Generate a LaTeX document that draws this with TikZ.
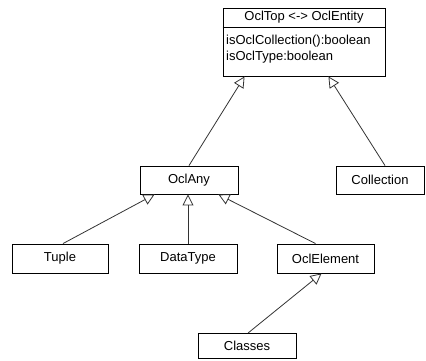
\documentclass[tikz,border=0pt]{standalone}
\usepackage{fontspec}
\setmainfont{Liberation Sans}
\usetikzlibrary{arrows.meta}
\begin{document}
\begin{tikzpicture}[x=1pt,y=-1pt,
  cls/.style={draw=black,line width=0.9pt,fill=white,minimum height=28pt,inner sep=0pt,font=\fontsize{13}{15}\selectfont},
  gen/.style={draw=black!80,line width=0.8pt,-{Triangle[open,length=11pt,width=11pt]}},
  txt/.style={inner sep=0pt,font=\fontsize{13}{15}\selectfont}]
\useasboundingbox (0,0) rectangle (426,360);
% top class
\node[draw=black,line width=0.9pt,minimum width=162pt,minimum height=68pt,inner sep=0pt] (top) at (304,42) {};
\node[txt] (toph) at (304,17.5) {OclTop <-> OclEntity};
\draw[line width=0.9pt] (top.west |- 0,27) coordinate (dl) -- (top.east |- 0,27) coordinate (dr);
\node[txt,anchor=west] (a1) at (226,41) {isOclCollection():boolean};
\node[txt,anchor=west] (a2) at (226,57) {isOclType:boolean};
% classes
\node[cls,minimum width=98pt] (any) at (189,180) {OclAny};
\node[cls,minimum width=88pt] (coll) at (380,180) {Collection};
\node[cls,minimum width=96pt,minimum height=29pt] (tuple) at (60,258.5) {Tuple};
\node[cls,minimum width=98pt,minimum height=29pt] (dt) at (188,258.5) {DataType};
\node[cls,minimum width=97pt,minimum height=29pt] (elem) at (325.5,258.5) {OclElement};
\node[cls,minimum width=98pt,minimum height=25pt] (classes) at (247,346) {Classes};
% generalizations
\draw[gen] (any.north) -- ([xshift=22pt]top.south west);
\draw[gen] ([xshift=5pt]coll.north) -- ([xshift=-57pt]top.south east);
\draw[gen] ([xshift=3pt]tuple.north) -- ([xshift=15pt]any.south west);
\draw[gen] (dt.north) -- (dt.north |- any.south);
\draw[gen] ([xshift=-10pt]elem.north) -- ([xshift=-20pt]any.south east);
\draw[gen] ([xshift=1pt]classes.north) -- ([xshift=-4pt]elem.south);
\end{tikzpicture}
\end{document}
